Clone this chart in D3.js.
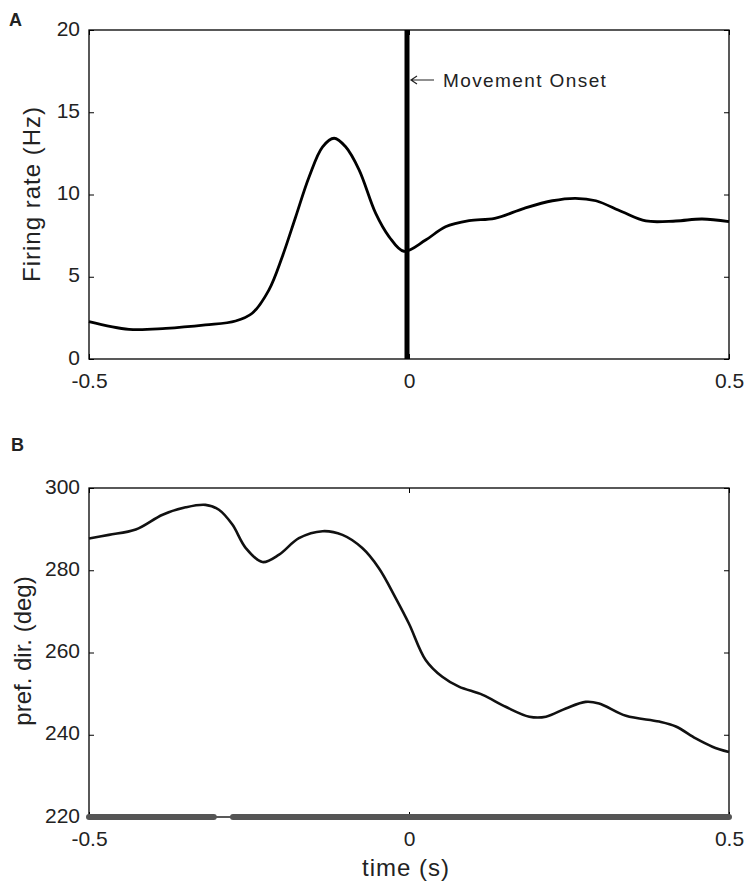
<!DOCTYPE html>
<html>
<head>
<meta charset="utf-8">
<script src="https://cdn.jsdelivr.net/npm/d3@7"></script>
<style>
  body { margin: 0; background: #fff; }
  svg { display: block; font-family: "Liberation Sans", Arial, sans-serif; }
  .axis path, .axis line { stroke: #000; }
  .axis text { font-size: 21px; fill: #222; }
</style>
</head>
<body>
<svg id="viz" width="744" height="881"></svg>
<script>
// panel A: firing rate (Hz) vs time (s)
const rateTime = [-0.5, -0.4375, -0.38, -0.318, -0.271, -0.245, -0.219, -0.198, -0.177, -0.156, -0.135, -0.117, -0.099, -0.078, -0.052, -0.031, -0.008,
  0.026, 0.057, 0.094, 0.134, 0.18, 0.224, 0.26, 0.292, 0.333, 0.37, 0.417, 0.458, 0.5];
const rateVals = [2.27, 1.8, 1.86, 2.07, 2.31, 2.78, 4.19, 6.22, 8.65, 11.08, 12.9, 13.42, 12.9, 11.5, 8.85, 7.43, 6.55,
  7.23, 8.04, 8.41, 8.55, 9.16, 9.62, 9.77, 9.62, 8.95, 8.39, 8.39, 8.51, 8.35];

// panel B: preferred direction (deg) vs time (s)
const dirTime = [-0.5, -0.469, -0.427, -0.385, -0.349, -0.318, -0.297, -0.276, -0.255, -0.229, -0.203, -0.172, -0.135, -0.104, -0.073, -0.047, -0.021, 0,
  0.026, 0.052, 0.078, 0.115, 0.151, 0.188, 0.214, 0.245, 0.276, 0.297, 0.339, 0.391, 0.417, 0.448, 0.474, 0.5];
const dirVals = [287.7, 288.6, 289.9, 293.5, 295.3, 295.9, 294.7, 291.1, 285.4, 282.0, 283.8, 287.8, 289.5, 288.6, 285.4, 280.5, 273.3, 267.0,
  258.2, 254.1, 251.7, 249.7, 246.8, 244.4, 244.4, 246.4, 248.0, 247.6, 244.6, 243.2, 242.0, 239.1, 237.1, 235.8];

// significant segments (gray bars along the bottom of panel B)
const sigStart = [-0.5, -0.275];
const sigEnd = [-0.305, 0.5];

const xTicks = [-0.5, 0, 0.5];
const rateTicks = [0, 5, 10, 15, 20];
const dirTicks = [220, 240, 260, 280, 300];

const svg = d3.select("#viz");
const X0 = 89, X1 = 729;

const x = d3.scaleLinear().domain([-0.5, 0.5]).range([X0, X1]);
const yA = d3.scaleLinear().domain([0, 20]).range([359, 30]);
const yB = d3.scaleLinear().domain([220, 300]).range([817, 488]);

const fmt = d => d === 0 ? "0" : String(d);

function frame(y, yTicks, top, bottom) {
  const g = svg.append("g");
  g.append("rect")
    .attr("x", X0).attr("y", top)
    .attr("width", X1 - X0).attr("height", bottom - top)
    .attr("fill", "none").attr("stroke", "#000").attr("stroke-width", 1.3);

  g.append("g").attr("class", "axis")
    .attr("transform", `translate(${X0},0)`)
    .call(d3.axisLeft(y).tickValues(yTicks).tickSize(-5).tickSizeOuter(0).tickPadding(9).tickFormat(fmt))
    .call(a => a.select(".domain").remove())
    .call(a => a.selectAll("text").attr("dy", "0.24em"));

  g.append("g").attr("class", "axis")
    .attr("transform", `translate(${X1},0)`)
    .call(d3.axisRight(y).tickValues(yTicks).tickSize(-5).tickSizeOuter(0).tickFormat(""))
    .call(a => a.select(".domain").remove());

  g.append("g").attr("class", "axis")
    .attr("transform", `translate(0,${bottom})`)
    .call(d3.axisBottom(x).tickValues(xTicks).tickSize(-5).tickSizeOuter(0).tickPadding(14).tickFormat(fmt))
    .call(a => a.select(".domain").remove());

  g.append("g").attr("class", "axis")
    .attr("transform", `translate(0,${top})`)
    .call(d3.axisTop(x).tickValues(xTicks).tickSize(-5).tickSizeOuter(0).tickFormat(""))
    .call(a => a.select(".domain").remove());
  return g;
}

// ---- panel A ----
frame(yA, rateTicks, 30, 359);

const lineA = d3.line()
  .x((d, i) => x(rateTime[i]))
  .y(d => yA(d))
  .curve(d3.curveCatmullRom);

svg.append("path")
  .datum(rateVals)
  .attr("d", lineA)
  .attr("fill", "none")
  .attr("stroke", "#000")
  .attr("stroke-width", 2.8);

// movement onset marker
svg.append("line")
  .attr("x1", x(0) - 2).attr("x2", x(0) - 2)
  .attr("y1", yA(20)).attr("y2", yA(0))
  .attr("stroke", "#000").attr("stroke-width", 5);

// arrow pointing at the marker
const ax = x(0) + 2, ay = 80;
svg.append("path")
  .attr("d", `M${ax},${ay}H${ax + 23}M${ax + 6},${ay - 4}L${ax},${ay}L${ax + 6},${ay + 4}`)
  .attr("fill", "none").attr("stroke", "#222").attr("stroke-width", 1.2);

svg.append("text")
  .attr("x", 443).attr("y", 87)
  .attr("font-size", 19).attr("fill", "#222")
  .attr("letter-spacing", 1.4)
  .text("Movement Onset");

svg.append("text")
  .attr("transform", "translate(40,194) rotate(-90)")
  .attr("text-anchor", "middle")
  .attr("font-size", 24).attr("fill", "#222")
  .attr("letter-spacing", 1)
  .text("Firing rate (Hz)");

svg.append("text")
  .attr("x", 9).attr("y", 26)
  .attr("font-size", 18).attr("font-weight", "bold").attr("fill", "#222")
  .text("A");

// ---- panel B ----
frame(yB, dirTicks, 488, 817);

const lineB = d3.line()
  .x((d, i) => x(dirTime[i]))
  .y(d => yB(d))
  .curve(d3.curveCatmullRom);

svg.append("path")
  .datum(dirVals)
  .attr("d", lineB)
  .attr("fill", "none")
  .attr("stroke", "#111")
  .attr("stroke-width", 2.6);

svg.selectAll(".sig")
  .data(sigStart)
  .join("line")
  .attr("class", "sig")
  .attr("x1", d => x(d))
  .attr("x2", (d, i) => x(sigEnd[i]))
  .attr("y1", yB(220)).attr("y2", yB(220))
  .attr("stroke", "#555")
  .attr("stroke-width", 6)
  .attr("stroke-linecap", "round");

svg.append("text")
  .attr("transform", "translate(31,651) rotate(-90)")
  .attr("text-anchor", "middle")
  .attr("font-size", 24).attr("fill", "#222")
  .text("pref. dir. (deg)");

svg.append("text")
  .attr("x", x(0) - 3).attr("y", 876)
  .attr("text-anchor", "middle")
  .attr("font-size", 24).attr("fill", "#222")
  .attr("letter-spacing", 1)
  .text("time (s)");

svg.append("text")
  .attr("x", 11).attr("y", 451)
  .attr("font-size", 18).attr("font-weight", "bold").attr("fill", "#222")
  .text("B");
</script>
</body>
</html>
